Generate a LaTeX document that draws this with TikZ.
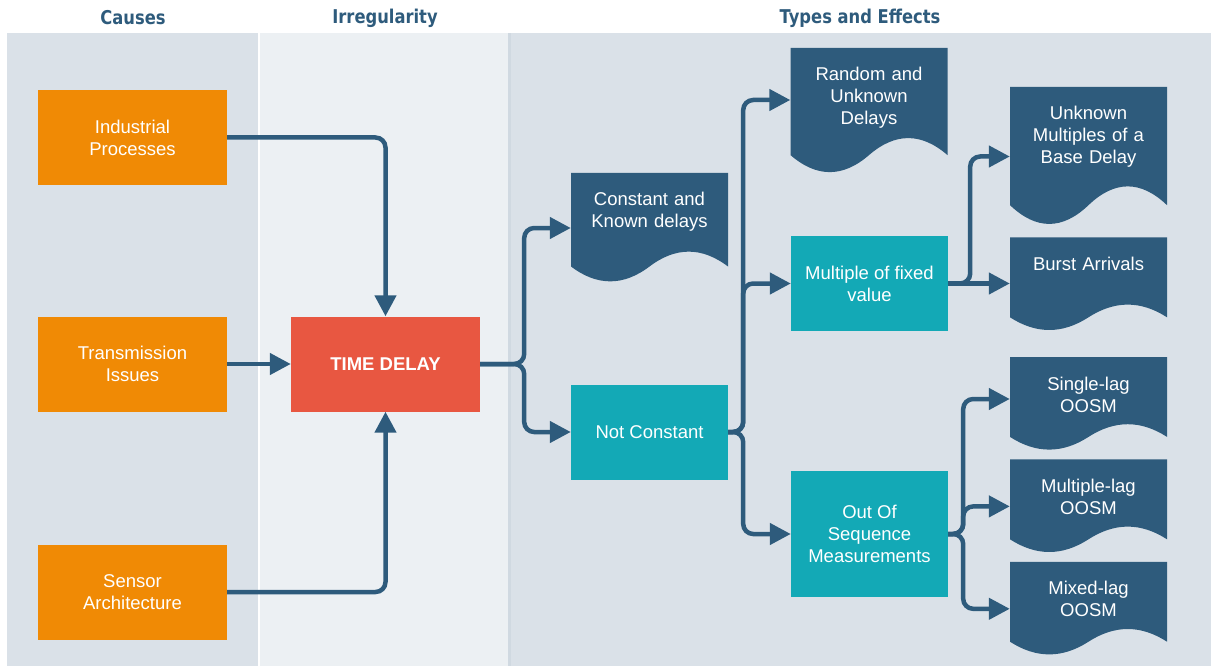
\documentclass[tikz,border=0pt]{standalone}
\usepackage{fontspec}
\setmainfont{Liberation Sans}
\newfontfamily\headfont[FakeStretch=0.86]{DejaVu Sans}
\usepackage{tikz}
\usetikzlibrary{arrows.meta,positioning,calc}
\usepackage{xcolor}
\definecolor{dfnavy}{RGB}{46,91,124}
\definecolor{dforange}{RGB}{240,138,5}
\definecolor{dfred}{RGB}{232,87,65}
\definecolor{dfteal}{RGB}{19,169,182}
\definecolor{dfpanel}{RGB}{218,225,232}
\definecolor{dfpanellight}{RGB}{236,240,243}
\definecolor{dfstrip}{RGB}{208,217,225}
\newcommand{\bodytext}{\fontsize{18.5pt}{22pt}\selectfont}
\tikzstyle{head} = [font={\headfont\bfseries\fontsize{19pt}{22pt}\selectfont}, text=dfnavy]
\tikzstyle{cause} = [rectangle, minimum width=189pt, minimum height=95pt, align=center, text=white, fill=dforange, font=\bodytext]
\tikzstyle{delay} = [rectangle, minimum width=189pt, minimum height=95pt, align=center, text=white, fill=dfred, font=\bodytext\bfseries]
\tikzstyle{process} = [rectangle, minimum width=157pt, minimum height=95pt, align=center, text=white, fill=dfteal, font=\bodytext]
\tikzstyle{doc} = [rectangle, inner sep=0pt, text width=157pt, align=center, text height=33pt, text=white, font=\bodytext,
  path picture={\fill[dfnavy] let \p1=(path picture bounding box.north west), \p2=(path picture bounding box.south east) in
    (\x1,\y1) -- (\x2,\y1) -- (\x2,{\y1+0.85*(\y2-\y1)})
    .. controls ({\x1+0.8333*(\x2-\x1)},{\y1+0.67*(\y2-\y1)}) and ({\x1+0.6667*(\x2-\x1)},{\y1+0.67*(\y2-\y1)}) .. ({0.5*(\x1+\x2)},{\y1+0.85*(\y2-\y1)})
    .. controls ({\x1+0.3333*(\x2-\x1)},{\y1+1.03*(\y2-\y1)}) and ({\x1+0.1667*(\x2-\x1)},{\y1+1.03*(\y2-\y1)}) .. (\x1,{\y1+0.85*(\y2-\y1)}) -- cycle;}]
\tikzstyle{arrow} = [line width=4.5pt, ->, >={Triangle[length=21pt,width=21pt]}, color=dfnavy, rounded corners=10pt]

\begin{document}
\begin{tikzpicture}[x=1pt, y=-1pt]
\useasboundingbox (0,0) rectangle (1211,666);
% panels
\fill[dfpanel] (7,33) rectangle (257.5,666);
\fill[dfpanellight] (260,33) rectangle (508,666);
\fill[dfpanel] (508,33) rectangle (1211,666);
\fill[dfstrip] (508,33) rectangle (511,666);
\node[head] (h1) at (133,18) {Causes};
\node[head] (h2) at (385,18) {Irregularity};
\node[head] (h3) at (860,18) {Types and Effects};

% causes and delay
\node[cause] (c1) at (132.5,137.5) {Industrial\\Processes};
\node[cause] (c2) at (132.5,364) {Transmission\\Issues};
\node[cause] (c3) at (132.5,592) {Sensor\\Architecture};
\node[delay] (td) at (385.5,364) {TIME DELAY};

% types and effects
\node[doc, text depth=77pt] (e1) at (649.5,228) {Constant and\\Known delays};
\node[process] (n2) at (649.5,432) {Not Constant};
\node[doc, text depth=93pt] (e2) at (869,111) {Random and\\Unknown\\Delays};
\node[process] (n3) at (869.5,283.5) {Multiple of fixed\\value};
\node[process, minimum height=126pt] (n4) at (869.5,534) {Out Of\\Sequence\\Measurements};
\node[doc, text depth=106pt] (e3) at (1088.5,156.5) {Unknown\\Multiples of a\\Base Delay};
\node[doc, text depth=61pt, below=11pt of e3] (e4) {Burst Arrivals};
\node[doc, text depth=61pt] (e5) at (1088.5,404) {Single-lag\\OOSM};
\node[doc, text depth=61pt, below=8pt of e5] (e6) {Multiple-lag\\OOSM};
\node[doc, text depth=61pt, below=8pt of e6] (e7) {Mixed-lag\\OOSM};

% connectors
\draw[arrow] (c1.east) -| (td.north);
\draw[arrow] (c2) -- (td);
\draw[arrow] (c3.east) -| (td.south);
\draw[arrow] (td.east) -- ++(44,0) |- (e1.west);
\draw[arrow] (td.east) -- ++(44,0) |- (n2.west);
\draw[arrow] (n2.east) -- ++(15,0) |- ([yshift=11pt]e2.west);
\draw[arrow] (n2.east) -- ++(15,0) |- (n3.west);
\draw[arrow] (n2.east) -- ++(15,0) |- (n4.west);
\draw[arrow] (n3.east) -- ++(22,0) |- (e3.west);
\draw[arrow] (n3.east) -- (n3.east -| e4.west);
\draw[arrow] (n4.east) -- ++(15,0) |- ([yshift=5pt]e5.west);
\draw[arrow] (n4.east) -- ++(15,0) |- (e6.west);
\draw[arrow] (n4.east) -- ++(15,0) |- (e7.west);
\end{tikzpicture}
\end{document}
